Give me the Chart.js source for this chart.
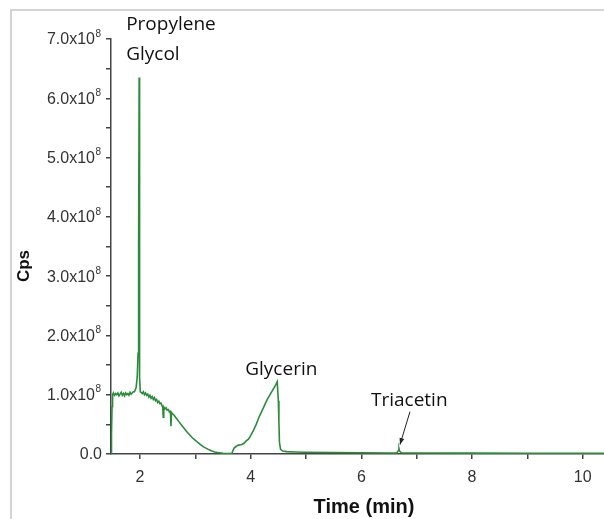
<!DOCTYPE html>
<html lang="en">
<head>
  <meta charset="UTF-8" />
  <title>Chromatogram</title>
  <script src="https://cdn.jsdelivr.net/npm/chart.js"></script>
  <style>
    body {
      margin: 0;
      width: 604px;
      height: 519px;
      overflow: hidden;
      background: #fff;
      position: relative;
    }
    .frame {
      position: absolute;
      left: 10px;
      top: 9px;
      width: 800px;
      height: 700px;
      border: 2px solid #d4d4d4;
    }
    canvas {
      position: absolute;
      left: 0;
      top: 0;
    }
  </style>
</head>
<body>
  <div class="frame"></div>
  <canvas id="chrom" width="604" height="519"></canvas>

  <script>
    // retention time (min)
    const times = [
      1.476, 1.485, 1.495, 1.505, 1.52, 1.54, 1.56, 1.58, 1.60, 1.62, 1.64, 1.66, 1.68, 1.70,
      1.72, 1.74, 1.76, 1.78, 1.80, 1.82, 1.84, 1.86, 1.88, 1.90, 1.93, 1.95, 1.965, 1.975,
      1.985, 1.99, 1.995, 2.005, 2.02, 2.04, 2.06, 2.08, 2.10, 2.12, 2.14, 2.16, 2.18,
      2.20, 2.22, 2.24, 2.26, 2.28, 2.30, 2.32, 2.34, 2.36, 2.38, 2.40, 2.41, 2.42, 2.43,
      2.45, 2.47, 2.49, 2.51, 2.53, 2.55, 2.56, 2.57, 2.59, 2.62, 2.66, 2.70, 2.75, 2.80,
      2.85, 2.90, 2.95, 3.00, 3.05, 3.10, 3.15, 3.20, 3.25, 3.30, 3.35, 3.40, 3.50, 3.60,
      3.66, 3.68, 3.70, 3.74, 3.78, 3.84, 3.88, 3.92, 3.96, 4.00, 4.05, 4.10, 4.15, 4.20,
      4.25, 4.30, 4.35, 4.40, 4.45, 4.48, 4.50, 4.51, 4.52, 4.54, 4.58, 4.65, 4.80, 5.00,
      5.50, 6.00, 6.50, 6.64, 6.67, 6.68, 6.69, 6.72, 7.00, 8.00, 9.00, 10.00, 10.385
    ];
    // intensity (x10^8 cps)
    const cps = [
      0.00, 0.35, 0.80, 1.00, 1.03, 0.99, 1.02, 1.00, 1.03, 0.98, 1.01, 1.04, 0.99, 1.02,
      0.98, 1.03, 1.00, 1.02, 0.99, 1.04, 1.01, 1.03, 1.05, 1.05, 1.12, 1.30, 1.70, 3.50,
      6.35, 3.00, 1.30, 1.05, 1.04, 1.02, 1.05, 1.00, 1.03, 0.99, 1.01, 0.96, 0.99,
      0.94, 0.97, 0.92, 0.95, 0.90, 0.92, 0.87, 0.89, 0.85, 0.86, 0.81, 0.80, 0.62, 0.79,
      0.76, 0.78, 0.74, 0.75, 0.71, 0.72, 0.47, 0.70, 0.68, 0.65, 0.60, 0.55, 0.49, 0.43,
      0.37, 0.32, 0.27, 0.23, 0.19, 0.155, 0.12, 0.095, 0.07, 0.05, 0.035, 0.025, 0.012, 0.008,
      0.01, 0.06, 0.10, 0.13, 0.15, 0.16, 0.18, 0.22, 0.25, 0.31, 0.40, 0.50, 0.62, 0.72,
      0.82, 0.92, 1.00, 1.08, 1.16, 1.22, 0.90, 0.55, 0.20, 0.08, 0.05, 0.04, 0.035, 0.03,
      0.025, 0.02, 0.018, 0.018, 0.06, 0.09, 0.05, 0.02, 0.016, 0.014, 0.013, 0.012, 0.012
    ];

    const xTicks = [2, 3, 4, 5, 6, 7, 8, 9, 10];
    const xTickLabels = ['2', '', '4', '', '6', '', '8', '', '10'];
    const yTicks = [0, 0.5, 1, 1.5, 2, 2.5, 3, 3.5, 4, 4.5, 5, 5.5, 6, 6.5, 7];
    const yTickLabels = ['0.0', '', '1.0x10', '', '2.0x10', '', '3.0x10', '', '4.0x10',
      '', '5.0x10', '', '6.0x10', '', '7.0x10'];
    const yTickExp = ['', '', '8', '', '8', '', '8', '', '8', '', '8', '', '8', '', '8'];

    const peakNames = ['Propylene', 'Glycol', 'Glycerin', 'Triacetin'];
    const xTitle = 'Time (min)';
    const yTitle = 'Cps';

    const axisColor = '#444';
    const lineColor = '#2a8c3a';
    const sans = '"Liberation Sans", Arial, sans-serif';

    // y tick labels (with superscript exponent), axis titles, peak names
    const extras = {
      id: 'extras',
      afterDraw(chart) {
        const { ctx, scales: { x, y } } = chart;
        ctx.save();

        ctx.fillStyle = '#333';
        ctx.textBaseline = 'middle';
        yTicks.forEach((v, i) => {
          if (!yTickLabels[i]) return;
          const py = y.getPixelForValue(v);
          ctx.font = '16px ' + sans;
          ctx.textAlign = 'right';
          if (yTickExp[i]) {
            ctx.fillText(yTickLabels[i], 95, py + 1);
            ctx.font = '10px ' + sans;
            ctx.textAlign = 'left';
            ctx.fillText(yTickExp[i], 95.5, py - 5);
          } else {
            ctx.fillText(yTickLabels[i], 102, py + 1);
          }
        });

        ctx.fillStyle = '#111';
        ctx.font = 'bold 20px ' + sans;
        ctx.textAlign = 'center';
        ctx.fillText(xTitle, 364, 507);
        ctx.save();
        ctx.translate(24, 266);
        ctx.rotate(-Math.PI / 2);
        ctx.font = 'bold 17px ' + sans;
        ctx.fillText(yTitle, 0, 0);
        ctx.restore();

        ctx.font = '19px "Open Sans", sans-serif';
        ctx.textAlign = 'left';
        ctx.textBaseline = 'alphabetic';
        const pgX = x.getPixelForValue(1.985) - 13;
        ctx.fillText(peakNames[0], pgX, 30);
        ctx.fillText(peakNames[1], pgX, 60);
        const glX = x.getPixelForValue(4.48);
        const glY = y.getPixelForValue(1.22);
        ctx.fillText(peakNames[2], glX - 32, glY - 7);
        const trX = x.getPixelForValue(6.68);
        const trY = y.getPixelForValue(0.09);
        ctx.fillText(peakNames[3], trX - 28, trY - 43);

        // arrow to the triacetin peak
        const ax0 = trX + 11, ay0 = trY - 37;
        const ax1 = trX + 1, ay1 = trY - 4;
        ctx.strokeStyle = '#222';
        ctx.lineWidth = 1;
        ctx.beginPath();
        ctx.moveTo(ax0, ay0);
        ctx.lineTo(ax1, ay1);
        ctx.stroke();
        const ang = Math.atan2(ay1 - ay0, ax1 - ax0);
        ctx.fillStyle = '#222';
        ctx.beginPath();
        ctx.moveTo(ax1, ay1);
        ctx.lineTo(ax1 - 7 * Math.cos(ang - 0.35), ay1 - 7 * Math.sin(ang - 0.35));
        ctx.lineTo(ax1 - 7 * Math.cos(ang + 0.35), ay1 - 7 * Math.sin(ang + 0.35));
        ctx.closePath();
        ctx.fill();
        ctx.restore();
      }
    };

    new Chart(document.getElementById('chrom'), {
      type: 'line',
      data: {
        datasets: [{
          data: times.map((t, i) => ({ x: t, y: cps[i] })),
          borderColor: lineColor,
          borderWidth: 1.6,
          pointRadius: 0,
          tension: 0,
          fill: false
        }]
      },
      options: {
        responsive: false,
        animation: false,
        devicePixelRatio: 1,
        layout: { padding: { top: 39, left: 0, right: 0, bottom: 0 } },
        plugins: {
          legend: { display: false },
          tooltip: { enabled: false }
        },
        scales: {
          x: {
            type: 'linear',
            min: 1.476,
            max: 10.385,
            afterFit: s => { s.height = 65; },
            afterBuildTicks: s => { s.ticks = xTicks.map(v => ({ value: v })); },
            border: { display: true, color: axisColor, width: 1.5 },
            grid: { drawOnChartArea: false, drawTicks: true, tickLength: 5, color: axisColor, lineWidth: 1.5 },
            ticks: {
              color: '#333',
              font: { family: sans, size: 16 },
              padding: 9,
              maxRotation: 0,
              autoSkip: false,
              callback: (v, i) => xTickLabels[i]
            }
          },
          y: {
            min: 0,
            max: 7,
            afterFit: s => { s.width = 111; },
            afterBuildTicks: s => { s.ticks = yTicks.map(v => ({ value: v })); },
            border: { display: true, color: axisColor, width: 1.5 },
            grid: { drawOnChartArea: false, drawTicks: true, tickLength: 5, color: axisColor, lineWidth: 1.5 },
            ticks: { display: false }
          }
        }
      },
      plugins: [extras]
    });
  </script>
</body>
</html>
